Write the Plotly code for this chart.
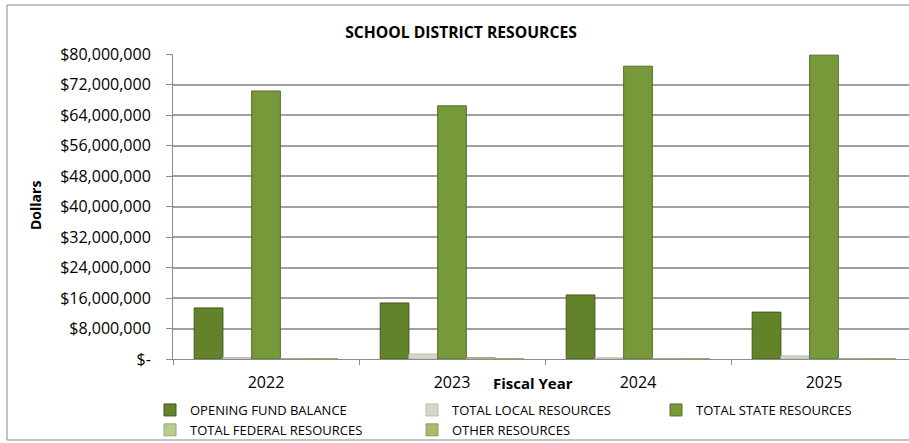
import plotly.graph_objects as go

# Fiscal years on the category axis
years = ["2022", "2023", "2024", "2025"]

# Resource amounts per fiscal year (dollars)
opening_fund_balance = [13_400_000, 14_700_000, 16_800_000, 12_300_000]
total_local_resources = [400_000, 1_300_000, 300_000, 800_000]
total_state_resources = [70_300_000, 66_400_000, 76_800_000, 79_700_000]
total_federal_resources = [100_000, 400_000, 100_000, 100_000]
other_resources = [50_000, 50_000, 50_000, 50_000]

# Y-axis ticks and their accounting-style labels
y_tick_values = [0, 8_000_000, 16_000_000, 24_000_000, 32_000_000, 40_000_000,
                 48_000_000, 56_000_000, 64_000_000, 72_000_000, 80_000_000]
y_tick_labels = ["$-", "$8,000,000", "$16,000,000", "$24,000,000", "$32,000,000",
                 "$40,000,000", "$48,000,000", "$56,000,000", "$64,000,000",
                 "$72,000,000", "$80,000,000"]

FONT = "Open Sans"
W, H = 909, 443

# Plot-area geometry in pixels (used to place paper-referenced items)
PLOT_L, PLOT_W = 173, 736
PLOT_BOTTOM, PLOT_H = 359, 305


def px_x(px):
    return (px - PLOT_L) / PLOT_W


def px_y(py):
    return (PLOT_BOTTOM - py) / PLOT_H


# name, values, fill, edge, legend column
series = [
    ("OPENING FUND BALANCE", opening_fund_balance, "#62832a", "#43591c", "legend"),
    ("TOTAL LOCAL RESOURCES", total_local_resources, "#d4d8cc", "#b9bdb0", "legend2"),
    ("TOTAL STATE RESOURCES", total_state_resources, "#77993a", "#566f28", "legend3"),
    ("TOTAL FEDERAL RESOURCES", total_federal_resources, "#b8cc8e", "#9aa88a", "legend"),
    ("OTHER RESOURCES", other_resources, "#a3bd6a", "#8aa05a", "legend2"),
]

fig = go.Figure()
for name, values, fill, edge, leg in series:
    fig.add_trace(go.Bar(
        name=name,
        x=years,
        y=values,
        legend=leg,
        marker=dict(color=fill, line=dict(color=edge, width=1)),
    ))

# Legend columns are anchored to the page (container) vertically so they
# sit in the bottom strip without shrinking the plot area
legend_common = dict(
    orientation="v",
    xanchor="left",
    yref="container",
    y=1 - 395 / H,
    yanchor="top",
    font=dict(family=FONT, size=13, color="#000000"),
    bgcolor="rgba(0,0,0,0)",
    traceorder="normal",
)

fig.update_layout(
    width=W,
    height=H,
    margin=dict(l=PLOT_L, r=0, t=54, b=84),
    paper_bgcolor="white",
    plot_bgcolor="white",
    barmode="group",
    bargap=0.228,
    bargroupgap=0,
    font=dict(family=FONT, color="#000000"),
    title=dict(
        text="<b>SCHOOL DISTRICT RESOURCES</b>",
        x=461 / W,
        xanchor="center",
        y=1 - 33 / H,
        yanchor="middle",
        font=dict(family=FONT, size=15.7, color="#000000"),
    ),
    xaxis=dict(
        type="category",
        range=[-0.5, 3.457],
        showline=True,
        linecolor="#8c8c8c",
        linewidth=1,
        ticks="outside",
        tickson="boundaries",
        ticklen=5,
        tickcolor="#8c8c8c",
        showgrid=False,
        ticklabelstandoff=9,
        tickfont=dict(family=FONT, size=16, color="#000000"),
    ),
    yaxis=dict(
        range=[0, 80_000_000],
        tickvals=y_tick_values,
        ticktext=y_tick_labels,
        showline=True,
        linecolor="#8c8c8c",
        linewidth=1,
        ticks="outside",
        ticklen=6,
        tickcolor="#8c8c8c",
        showgrid=True,
        gridcolor="#a0a0a0",
        gridwidth=1.5,
        zeroline=False,
        ticklabelstandoff=12,
        tickfont=dict(family=FONT, size=16, color="#000000"),
    ),
    legend=dict(legend_common, x=px_x(150)),
    legend2=dict(legend_common, x=px_x(412)),
    legend3=dict(legend_common, x=px_x(656)),
    showlegend=True,
)

# Axis titles
fig.add_annotation(
    text="<b>Fiscal Year</b>",
    xref="paper", yref="paper",
    x=px_x(533), y=px_y(383),
    xanchor="center", yanchor="middle",
    showarrow=False,
    font=dict(family=FONT, size=15, color="#000000"),
)
fig.add_annotation(
    text="<b>Dollars</b>",
    xref="paper", yref="paper",
    x=px_x(35), y=px_y(206),
    xanchor="center", yanchor="middle",
    textangle=-90,
    showarrow=False,
    font=dict(family=FONT, size=14, color="#000000"),
)

# Chart-area frame
fig.add_shape(
    type="rect",
    xref="paper", yref="paper",
    x0=px_x(7), x1=1.1,
    y0=px_y(440), y1=px_y(5),
    line=dict(color="#868686", width=1),
    fillcolor="rgba(0,0,0,0)",
    layer="below",
)

fig.write_html("out.html")
